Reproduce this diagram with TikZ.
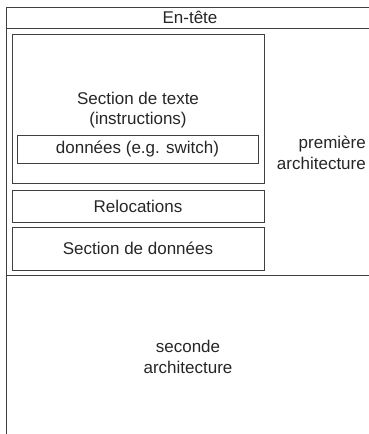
\documentclass[tikz,border=0pt]{standalone}
\usepackage{fontspec}
\setmainfont{Liberation Sans}
\begin{document}
\begin{tikzpicture}[x=1pt,y=-1pt,
  line/.style={draw=black!75,line width=0.9pt},
  sect/.style={line},
  lbl/.style={font=\fontsize{17}{20.5}\selectfont,text=black!85,align=center,inner sep=0pt}]
\useasboundingbox (0,0) rectangle (369,434);
% outer frame
\coordinate (tl) at (6,7);
\coordinate (tr) at (369,7);
\coordinate (bl) at (6,434);
\coordinate (hl) at (6,28);
\coordinate (hr) at (369,28);
\coordinate (ml) at (6,275);
\coordinate (mr) at (369,275);
\draw[line] (tr) -- (tl) -- (bl);
\draw[line] (hl) -- (hr);
\draw[line] (ml) -- (mr);
\node[lbl] (entete) at (190,17.5) {En-tête};
% text section
\draw[sect] (12,34) rectangle (264,183);
\node[lbl] (texte) at (138,110) {Section de texte\\(instructions)};
\draw[sect] (17,135) rectangle (258,163);
\node[lbl] (donnees) at (137.5,149) {données (e.g. switch)};
% relocations
\draw[sect] (12,190) rectangle (264,222);
\node[lbl] (reloc) at (138,206) {Relocations};
% data section
\draw[sect] (12,227) rectangle (264,270);
\node[lbl] (data) at (138,248) {Section de données};
% labels
\node[lbl,align=right,anchor=east] (prem) at (366,153) {première\\architecture};
\node[lbl] (sec) at (188,357) {seconde\\architecture};
\end{tikzpicture}
\end{document}
